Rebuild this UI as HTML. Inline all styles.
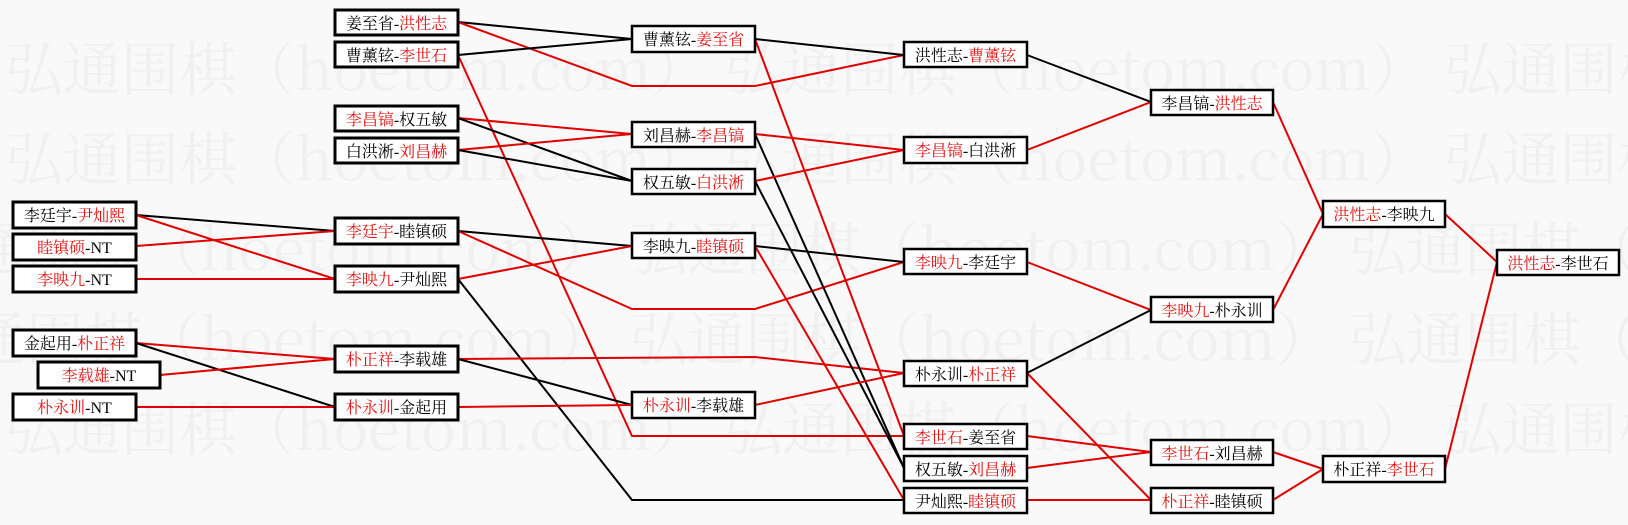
<!DOCTYPE html>
<html><head><meta charset="utf-8"><style>
html,body{margin:0;padding:0;background:#f9f9f9;width:1628px;height:525px;overflow:hidden;}
svg{display:block;}
.wm{font-family:"Noto Serif CJK SC","Liberation Serif",serif;font-size:58px;fill:#f0f0f0;}
.t{font-family:"Liberation Serif","Noto Serif CJK SC",serif;font-size:16px;fill:#000;}
.r{fill:#e01010;}
.b{fill:#fff;stroke:#000;stroke-width:2.5;}
.bk{stroke:#000;stroke-width:2;fill:none;}
.rd{stroke:#e00000;stroke-width:2;fill:none;}
</style></head><body>
<svg width="1628" height="525" viewBox="0 0 1628 525" xmlns="http://www.w3.org/2000/svg" style="overflow:hidden">
<g class="wm">
<text x="5" y="90">弘通围棋（hoetom.com） 弘通围棋（hoetom.com） 弘通围棋（hoetom.com）</text>
<text x="5" y="180">弘通围棋（hoetom.com） 弘通围棋（hoetom.com） 弘通围棋（hoetom.com）</text>
<text x="-90" y="270">弘通围棋（hoetom.com） 弘通围棋（hoetom.com） 弘通围棋（hoetom.com）</text>
<text x="-90" y="360">弘通围棋（hoetom.com） 弘通围棋（hoetom.com） 弘通围棋（hoetom.com）</text>
<text x="5" y="450">弘通围棋（hoetom.com） 弘通围棋（hoetom.com） 弘通围棋（hoetom.com）</text>
</g>
<path class="bk" d="M136,215 L335,231"/>
<path class="rd" d="M136,215 L335,279"/>
<path class="rd" d="M136,246 L335,231"/>
<path class="rd" d="M136,279 L335,279"/>
<path class="rd" d="M136,343 L335,359"/>
<path class="bk" d="M136,343 L335,407"/>
<path class="rd" d="M160,375 L335,359"/>
<path class="rd" d="M136,407 L335,407"/>
<path class="bk" d="M458,22 L632,39"/>
<path class="rd" d="M458,22 L632,86 L755,86 L904,55"/>
<path class="bk" d="M458,55 L632,39"/>
<path class="rd" d="M458,55 L632,436 L904,436"/>
<path class="rd" d="M458,118 L632,134"/>
<path class="bk" d="M458,118 L632,181"/>
<path class="rd" d="M458,150 L632,134"/>
<path class="bk" d="M458,150 L632,181"/>
<path class="bk" d="M458,231 L632,246"/>
<path class="rd" d="M458,231 L632,309 L755,309 L904,262"/>
<path class="rd" d="M458,279 L632,246"/>
<path class="bk" d="M458,279 L632,500 L904,500"/>
<path class="rd" d="M458,359 L755,357 L904,373"/>
<path class="bk" d="M458,359 L632,405"/>
<path class="rd" d="M458,407 L632,405"/>
<path class="bk" d="M755,39 L904,55"/>
<path class="rd" d="M755,39 L904,436"/>
<path class="rd" d="M755,134 L904,150"/>
<path class="bk" d="M755,134 L904,468"/>
<path class="rd" d="M755,181 L904,150"/>
<path class="bk" d="M755,181 L904,468"/>
<path class="bk" d="M755,246 L904,262"/>
<path class="rd" d="M755,246 L904,500"/>
<path class="rd" d="M755,405 L904,373"/>
<path class="bk" d="M1027,55 L1151,102"/>
<path class="rd" d="M1027,150 L1151,102"/>
<path class="rd" d="M1027,262 L1151,310"/>
<path class="bk" d="M1027,373 L1151,310"/>
<path class="rd" d="M1027,373 L1151,500"/>
<path class="rd" d="M1027,436 L1151,452"/>
<path class="rd" d="M1027,468 L1151,452"/>
<path class="rd" d="M1027,500 L1151,500"/>
<path class="rd" d="M1273,102 L1323,214"/>
<path class="rd" d="M1273,310 L1323,214"/>
<path class="rd" d="M1273,452 L1323,469"/>
<path class="rd" d="M1273,500 L1323,469"/>
<path class="rd" d="M1445,214 L1497,262"/>
<path class="rd" d="M1445,469 L1497,262"/>
<g>
<rect class="b" x="13" y="202" width="123" height="26" style="stroke-width:3"/><text class="t" x="74.5" y="221" text-anchor="middle">李廷宇-<tspan class="r">尹灿熙</tspan></text>
<rect class="b" x="13" y="234" width="123" height="26" style="stroke-width:3"/><text class="t" x="74.5" y="253" text-anchor="middle"><tspan class="r">睦镇硕</tspan>-NT</text>
<rect class="b" x="13" y="266" width="123" height="26" style="stroke-width:3"/><text class="t" x="74.5" y="285" text-anchor="middle"><tspan class="r">李映九</tspan>-NT</text>
<rect class="b" x="13" y="330" width="123" height="26" style="stroke-width:3"/><text class="t" x="74.5" y="349" text-anchor="middle">金起用-<tspan class="r">朴正祥</tspan></text>
<rect class="b" x="38" y="362" width="122" height="26" style="stroke-width:3"/><text class="t" x="99" y="381" text-anchor="middle"><tspan class="r">李载雄</tspan>-NT</text>
<rect class="b" x="13" y="394" width="123" height="26" style="stroke-width:3"/><text class="t" x="74.5" y="413" text-anchor="middle"><tspan class="r">朴永训</tspan>-NT</text>
<rect class="b" x="335" y="10" width="123" height="25" style="stroke-width:3"/><text class="t" x="396.5" y="29" text-anchor="middle">姜至省-<tspan class="r">洪性志</tspan></text>
<rect class="b" x="335" y="42" width="123" height="25" style="stroke-width:3"/><text class="t" x="396.5" y="61" text-anchor="middle">曹薰铉-<tspan class="r">李世石</tspan></text>
<rect class="b" x="335" y="106" width="123" height="25" style="stroke-width:3"/><text class="t" x="396.5" y="125" text-anchor="middle"><tspan class="r">李昌镐</tspan>-权五敏</text>
<rect class="b" x="335" y="138" width="123" height="25" style="stroke-width:3"/><text class="t" x="396.5" y="157" text-anchor="middle">白洪淅-<tspan class="r">刘昌赫</tspan></text>
<rect class="b" x="335" y="218" width="123" height="26" style="stroke-width:3"/><text class="t" x="396.5" y="237" text-anchor="middle"><tspan class="r">李廷宇</tspan>-睦镇硕</text>
<rect class="b" x="335" y="266" width="123" height="26" style="stroke-width:3"/><text class="t" x="396.5" y="285" text-anchor="middle"><tspan class="r">李映九</tspan>-尹灿熙</text>
<rect class="b" x="335" y="346" width="123" height="26" style="stroke-width:3"/><text class="t" x="396.5" y="365" text-anchor="middle"><tspan class="r">朴正祥</tspan>-李载雄</text>
<rect class="b" x="335" y="394" width="123" height="26" style="stroke-width:3"/><text class="t" x="396.5" y="413" text-anchor="middle"><tspan class="r">朴永训</tspan>-金起用</text>
<rect class="b" x="632" y="26" width="123" height="26"/><text class="t" x="693.5" y="45" text-anchor="middle">曹薰铉-<tspan class="r">姜至省</tspan></text>
<rect class="b" x="632" y="122" width="123" height="25"/><text class="t" x="693.5" y="141" text-anchor="middle">刘昌赫-<tspan class="r">李昌镐</tspan></text>
<rect class="b" x="632" y="169" width="123" height="25"/><text class="t" x="693.5" y="188" text-anchor="middle">权五敏-<tspan class="r">白洪淅</tspan></text>
<rect class="b" x="632" y="233" width="123" height="25"/><text class="t" x="693.5" y="252" text-anchor="middle">李映九-<tspan class="r">睦镇硕</tspan></text>
<rect class="b" x="632" y="392" width="123" height="26"/><text class="t" x="693.5" y="411" text-anchor="middle"><tspan class="r">朴永训</tspan>-李载雄</text>
<rect class="b" x="904" y="42" width="123" height="25"/><text class="t" x="965.5" y="61" text-anchor="middle">洪性志-<tspan class="r">曹薰铉</tspan></text>
<rect class="b" x="904" y="137" width="123" height="26"/><text class="t" x="965.5" y="156" text-anchor="middle"><tspan class="r">李昌镐</tspan>-白洪淅</text>
<rect class="b" x="904" y="249" width="123" height="25"/><text class="t" x="965.5" y="268" text-anchor="middle"><tspan class="r">李映九</tspan>-李廷宇</text>
<rect class="b" x="904" y="361" width="123" height="25"/><text class="t" x="965.5" y="380" text-anchor="middle">朴永训-<tspan class="r">朴正祥</tspan></text>
<rect class="b" x="904" y="424" width="123" height="25"/><text class="t" x="965.5" y="443" text-anchor="middle"><tspan class="r">李世石</tspan>-姜至省</text>
<rect class="b" x="904" y="456" width="123" height="25"/><text class="t" x="965.5" y="475" text-anchor="middle">权五敏-<tspan class="r">刘昌赫</tspan></text>
<rect class="b" x="904" y="488" width="123" height="25"/><text class="t" x="965.5" y="507" text-anchor="middle">尹灿熙-<tspan class="r">睦镇硕</tspan></text>
<rect class="b" x="1151" y="90" width="122" height="25"/><text class="t" x="1212" y="109" text-anchor="middle">李昌镐-<tspan class="r">洪性志</tspan></text>
<rect class="b" x="1151" y="297" width="122" height="25"/><text class="t" x="1212" y="316" text-anchor="middle"><tspan class="r">李映九</tspan>-朴永训</text>
<rect class="b" x="1151" y="440" width="122" height="25"/><text class="t" x="1212" y="459" text-anchor="middle"><tspan class="r">李世石</tspan>-刘昌赫</text>
<rect class="b" x="1151" y="488" width="122" height="25"/><text class="t" x="1212" y="507" text-anchor="middle"><tspan class="r">朴正祥</tspan>-睦镇硕</text>
<rect class="b" x="1323" y="201" width="122" height="26"/><text class="t" x="1384" y="220" text-anchor="middle"><tspan class="r">洪性志</tspan>-李映九</text>
<rect class="b" x="1323" y="456" width="122" height="26"/><text class="t" x="1384" y="475" text-anchor="middle">朴正祥-<tspan class="r">李世石</tspan></text>
<rect class="b" x="1497" y="250" width="122" height="25"/><text class="t" x="1558" y="269" text-anchor="middle"><tspan class="r">洪性志</tspan>-李世石</text>
</g>
</svg>
</body></html>
